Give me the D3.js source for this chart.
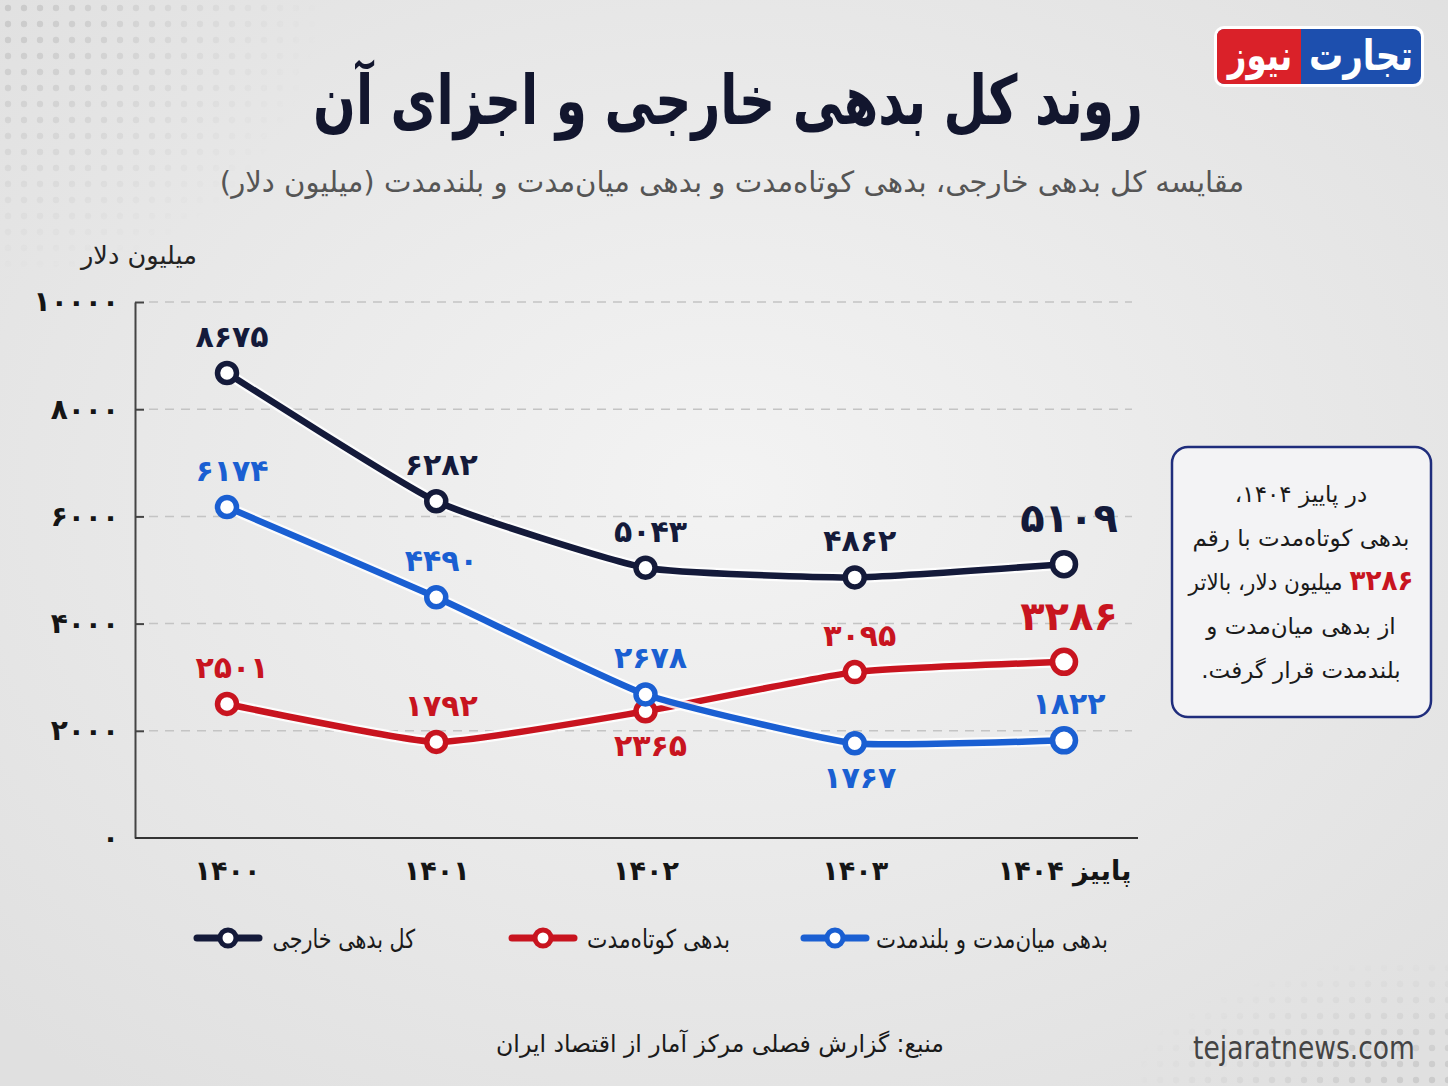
<!DOCTYPE html>
<html>
<head>
<meta charset="utf-8">
<script src="https://cdn.jsdelivr.net/npm/d3@7"></script>
<style>
  html, body { margin: 0; padding: 0; background: #e8e8e8; }
  svg { display: block; }
  text { font-family: "DejaVu Sans", "Noto Sans", sans-serif; }
</style>
</head>
<body>
<div id="chart-wrapper"></div>
<script>
// data
const years = ["۱۴۰۰", "۱۴۰۱", "۱۴۰۲", "۱۴۰۳", "پاییز ۱۴۰۴"];
const totalDebt = [8675, 6282, 5043, 4862, 5109];
const shortTermDebt = [2501, 1792, 2365, 3095, 3286];
const longTermDebt = [6174, 4490, 2678, 1767, 1822];
const yTicks = [0, 2000, 4000, 6000, 8000, 10000];

const seriesNames = ["کل بدهی خارجی", "بدهی کوتاه‌مدت", "بدهی میان‌مدت و بلندمدت"];

const W = 1448, H = 1086;
const faDigits = "۰۱۲۳۴۵۶۷۸۹";
const fa = (n) => String(n).replace(/\d/g, (d) => faDigits[d]);

// squeeze a text horizontally around its x anchor so it takes targetW px
// (DejaVu is much wider than the condensed Persian face of the original)
function fitX(sel, targetW) {
  sel.each(function () {
    const bb = this.getBBox();
    const k = targetW / bb.width;
    const ax = +this.getAttribute("x");
    d3.select(this).attr("transform", `translate(${ax},0) scale(${k},1) translate(${-ax},0)`);
  });
}

const svg = d3.select("#chart-wrapper").append("svg")
  .attr("width", W).attr("height", H);

// background
const defs = svg.append("defs");
const bg = defs.append("radialGradient").attr("id", "bg").attr("cx", "50%").attr("cy", "45%").attr("r", "70%");
bg.append("stop").attr("offset", "0%").attr("stop-color", "#f3f3f3");
bg.append("stop").attr("offset", "100%").attr("stop-color", "#e0e0e0");
svg.append("rect").attr("width", W).attr("height", H).attr("fill", "url(#bg)");

// halftone dots in the corners
const dots = defs.append("pattern").attr("id", "dots").attr("width", 16).attr("height", 16)
  .attr("patternUnits", "userSpaceOnUse");
dots.append("circle").attr("cx", 8).attr("cy", 8).attr("r", 3.2).attr("fill", "#c9c9c9");
const fadeTL = defs.append("radialGradient").attr("id", "fadeTL").attr("cx", "0%").attr("cy", "0%").attr("r", "100%");
fadeTL.append("stop").attr("offset", "0%").attr("stop-color", "#fff").attr("stop-opacity", 1);
fadeTL.append("stop").attr("offset", "100%").attr("stop-color", "#fff").attr("stop-opacity", 0);
defs.append("mask").attr("id", "maskTL").append("rect")
  .attr("width", 320).attr("height", 280).attr("fill", "url(#fadeTL)");
svg.append("rect").attr("width", 320).attr("height", 280).attr("fill", "url(#dots)")
  .attr("mask", "url(#maskTL)");
const fadeBR = defs.append("radialGradient").attr("id", "fadeBR").attr("cx", "100%").attr("cy", "100%").attr("r", "100%");
fadeBR.append("stop").attr("offset", "0%").attr("stop-color", "#fff").attr("stop-opacity", 1);
fadeBR.append("stop").attr("offset", "100%").attr("stop-color", "#fff").attr("stop-opacity", 0);
defs.append("mask").attr("id", "maskBR").append("rect")
  .attr("x", W - 320).attr("y", H - 130).attr("width", 320).attr("height", 130).attr("fill", "url(#fadeBR)");
svg.append("rect").attr("x", W - 320).attr("y", H - 130).attr("width", 320).attr("height", 130)
  .attr("fill", "url(#dots)").attr("mask", "url(#maskBR)");

// logo
const logo = svg.append("g").attr("transform", "translate(1214,26)");
logo.append("rect").attr("width", 210).attr("height", 61).attr("rx", 10).attr("fill", "#fff");
logo.append("rect").attr("x", 3).attr("y", 3).attr("width", 204).attr("height", 55).attr("rx", 8).attr("fill", "#1d4fae");
logo.append("path").attr("d", "M87,3 L11,3 Q3,3 3,11 L3,50 Q3,58 11,58 L87,58 Z").attr("fill", "#da2129");
logo.append("text").attr("x", 147).attr("y", 44).attr("text-anchor", "middle")
  .attr("font-size", 42).attr("font-weight", "bold").attr("fill", "#fff").text("تجارت")
  .call(fitX, 104);
logo.append("text").attr("x", 46).attr("y", 44).attr("text-anchor", "middle")
  .attr("font-size", 42).attr("font-weight", "bold").attr("fill", "#fff").text("نیوز")
  .call(fitX, 66);

// title + subtitle
svg.append("text").attr("x", 728).attr("y", 124).attr("text-anchor", "middle")
  .attr("direction", "rtl").attr("font-size", 68).attr("font-weight", "bold").attr("fill", "#12162e")
  .text("روند کل بدهی خارجی و اجزای آن")
  .call(fitX, 830);
svg.append("text").attr("x", 732).attr("y", 192).attr("text-anchor", "middle")
  .attr("direction", "rtl").attr("font-size", 29).attr("fill", "#555")
  .text("مقایسه کل بدهی خارجی، بدهی کوتاه‌مدت و بدهی میان‌مدت و بلندمدت (میلیون دلار)")
  .call(fitX, 1025);

// scales
const plotLeft = 135, plotRight = 1138, plotTop = 302, plotBottom = 838;
const x = d3.scalePoint().domain(years).range([227, 1064]);
const y = d3.scaleLinear().domain([0, 10000]).range([plotBottom, plotTop]);

// grid
svg.append("g").selectAll("line").data(yTicks.filter((d) => d > 0)).join("line")
  .attr("x1", plotLeft + 14).attr("x2", plotRight - 6)
  .attr("y1", (d) => y(d)).attr("y2", (d) => y(d))
  .attr("stroke", "#c4c4c4").attr("stroke-width", 1.5).attr("stroke-dasharray", "9,7");

// y axis
const yAxis = d3.axisRight(y).tickValues(yTicks).tickFormat(fa).tickSize(9).tickSizeOuter(0);
const yg = svg.append("g").attr("transform", `translate(${plotLeft},0)`).call(yAxis);
yg.select(".domain").attr("stroke", "#444").attr("stroke-width", 2);
yg.selectAll(".tick line").attr("stroke", "#444").attr("stroke-width", 2);
yg.selectAll(".tick text").attr("x", -16).attr("text-anchor", "end")
  .attr("font-size", 28).attr("font-weight", "bold").attr("fill", "#151515")
  .attr("font-family", "DejaVu Sans");
yg.selectAll(".tick").filter((d) => d === 0).select("line").remove();

svg.append("text").attr("x", 139).attr("y", 264).attr("text-anchor", "middle")
  .attr("direction", "rtl").attr("font-size", 25).attr("fill", "#222").text("میلیون دلار")
  .call(fitX, 118);

// x axis
const xAxis = d3.axisBottom(x).tickSize(0).tickPadding(18);
const xg = svg.append("g").attr("transform", `translate(0,${plotBottom})`).call(xAxis);
xg.select(".domain").attr("d", `M${plotLeft},0H${plotRight}`).attr("stroke", "#333").attr("stroke-width", 2);
xg.selectAll(".tick text").attr("font-size", 27).attr("font-weight", "bold").attr("fill", "#151515")
  .attr("direction", "rtl").attr("font-family", "DejaVu Sans").attr("dy", "0.9em");

// series
const series = [
  { name: seriesNames[0], values: totalDebt, color: "#141a3a", below: [] },
  { name: seriesNames[2], values: longTermDebt, color: "#1a5fd2", below: [3] },
  { name: seriesNames[1], values: shortTermDebt, color: "#c8141f", below: [2] },
];

const line = d3.line().x((d, i) => x(years[i])).y((d) => y(d)).curve(d3.curveCardinal.tension(0.55));

// red first so blue sits on top around 1402, navy on top of all
[series[2], series[1], series[0]].forEach((s) => {
  const g = svg.append("g");
  g.append("path").attr("d", line(s.values)).attr("fill", "none")
    .attr("stroke", "#fff").attr("stroke-width", 11).attr("stroke-linecap", "round").attr("opacity", 0.85);
  g.append("path").attr("d", line(s.values)).attr("fill", "none")
    .attr("stroke", s.color).attr("stroke-width", 6.5).attr("stroke-linecap", "round");
  g.selectAll("circle").data(s.values).join("circle")
    .attr("cx", (d, i) => x(years[i])).attr("cy", (d) => y(d))
    .attr("r", (d, i) => (i === years.length - 1 ? 11.5 : 9.5))
    .attr("fill", "#fff").attr("stroke", s.color).attr("stroke-width", 5.5);
  g.selectAll("text").data(s.values).join("text")
    .attr("x", (d, i) => x(years[i]) + 5)
    .attr("y", (d, i) => {
      const big = i === years.length - 1 && s !== series[1];
      if (s.below.includes(i)) return y(d) + 45;
      return y(d) - (big ? 32 : 26);
    })
    .attr("text-anchor", "middle")
    .attr("font-size", (d, i) => (i === years.length - 1 && s !== series[1] ? 40 : 30))
    .attr("font-weight", "bold").attr("fill", s.color)
    .text((d) => fa(d));
});

// annotation box
const note = svg.append("g").attr("transform", "translate(1172,447)");
note.append("rect").attr("width", 259).attr("height", 270).attr("rx", 16)
  .attr("fill", "#f3f3f5").attr("stroke", "#1f2d7c").attr("stroke-width", 2.5);
const noteLines = ["در پاییز ۱۴۰۴،", "بدهی کوتاه‌مدت با رقم", null, "از بدهی میان‌مدت و", "بلندمدت قرار گرفت."];
noteLines.forEach((t, i) => {
  const tx = note.append("text").attr("x", 129).attr("y", 55 + i * 44).attr("text-anchor", "middle")
    .attr("direction", "rtl").attr("font-size", 23).attr("fill", "#1a1a1a");
  if (t === null) {
    tx.append("tspan").attr("font-weight", "bold").attr("font-size", 28).attr("fill", "#c8141f").text(fa(shortTermDebt[4]));
    tx.append("tspan").text(" میلیون دلار، بالاتر");
    tx.call(fitX, 226);
  } else {
    tx.text(t);
  }
});

// legend: text right-aligned at tx, squeezed to w, marker to its left
const legendItems = [
  { s: series[0], mx: 228, tx: 415, w: 143 },
  { s: series[2], mx: 543, tx: 730, w: 143 },
  { s: series[1], mx: 835, tx: 1108, w: 232 },
];
const legend = svg.append("g").attr("transform", "translate(0,938)");
legendItems.forEach((it) => {
  legend.append("line").attr("x1", it.mx - 31).attr("x2", it.mx + 31).attr("y1", 0).attr("y2", 0)
    .attr("stroke", it.s.color).attr("stroke-width", 7).attr("stroke-linecap", "round");
  legend.append("circle").attr("cx", it.mx).attr("cy", 0).attr("r", 8)
    .attr("fill", "#fff").attr("stroke", it.s.color).attr("stroke-width", 5);
  legend.append("text").attr("x", it.tx).attr("y", 10).attr("direction", "rtl")
    .attr("text-anchor", "start").attr("font-size", 26).attr("fill", "#1a1a1a").text(it.s.name)
    .call(fitX, it.w);
});

// footer
svg.append("text").attr("x", 720).attr("y", 1052).attr("text-anchor", "middle").attr("direction", "rtl")
  .attr("font-size", 24).attr("fill", "#1a1a1a").text("منبع: گزارش فصلی مرکز آمار از اقتصاد ایران")
  .call(fitX, 448);
svg.append("text").attr("x", 1415).attr("y", 1059).attr("text-anchor", "end")
  .attr("font-family", "Roboto, sans-serif").attr("font-size", 32).attr("fill", "#444")
  .text("tejaratnews.com")
  .call(fitX, 222);
</script>
</body>
</html>
